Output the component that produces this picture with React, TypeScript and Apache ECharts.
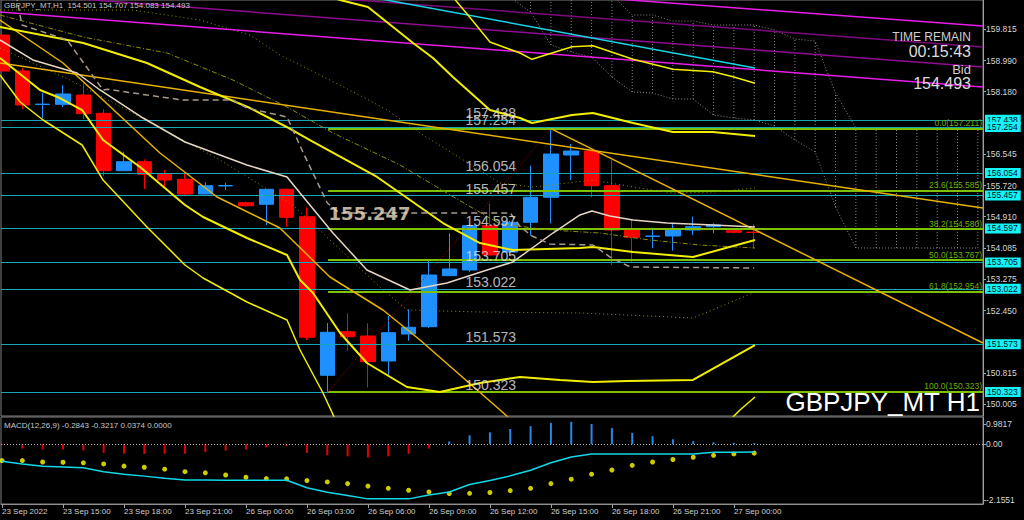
import React, { useEffect, useRef } from "react";
import * as echarts from "echarts";

// ---------------- data ----------------
const TIME_LABELS = ["23 Sep 2022", "23 Sep 15:00", "23 Sep 18:00", "23 Sep 21:00", "26 Sep 00:00", "26 Sep 03:00", "26 Sep 06:00", "26 Sep 09:00", "26 Sep 12:00", "26 Sep 15:00", "26 Sep 18:00", "26 Sep 21:00", "27 Sep 00:00"];
const TIME_LABEL_BARS = [0, 3, 6, 9, 12, 15, 18, 21, 24, 27, 30, 33, 36];

const OPEN = [159.658, 158.716, 157.840, 157.845, 158.089, 157.610, 156.109, 156.344, 156.014, 155.884, 155.499, 155.710, 155.271, 155.230, 155.622, 154.905, 150.757, 151.897, 151.785, 151.131, 151.837, 152.028, 153.363, 153.511, 154.670, 153.980, 154.759, 155.413, 156.519, 156.624, 155.716, 154.557, 154.390, 154.401, 154.557, 154.644, 154.539, 154.501];
const CLOSE = [158.716, 157.827, 157.850, 158.115, 157.600, 156.109, 156.344, 156.014, 155.865, 155.499, 155.716, 155.720, 155.193, 155.622, 154.890, 151.751, 151.882, 151.766, 151.113, 151.871, 152.012, 153.380, 153.538, 154.670, 153.903, 154.759, 155.413, 156.545, 156.624, 155.716, 154.557, 154.367, 154.400, 154.557, 154.644, 154.688, 154.497, 154.493];
const LOW = [158.350, 157.722, 157.479, 157.775, 157.461, 155.970, 156.100, 155.630, 155.664, 155.455, 155.490, 155.604, 155.159, 154.688, 154.644, 151.680, 150.323, 151.400, 150.443, 150.765, 151.662, 151.994, 153.360, 153.460, 153.890, 153.900, 154.408, 154.733, 155.865, 155.413, 153.642, 153.728, 154.079, 154.016, 154.427, 154.471, 154.471, 154.083];
const HIGH = [159.750, 158.803, 158.149, 158.350, 158.395, 157.715, 156.606, 156.407, 156.127, 156.030, 155.805, 155.795, 155.298, 155.630, 155.640, 155.151, 152.125, 152.378, 152.117, 152.308, 152.483, 153.791, 154.471, 154.688, 155.256, 154.800, 156.240, 157.211, 156.807, 156.630, 156.388, 154.819, 154.618, 154.714, 154.905, 154.733, 154.576, 154.707];

const PRICE_TICKS = [159.815, 158.990, 158.180, 156.545, 155.720, 154.910, 154.085, 153.275, 152.450, 150.815, 150.005];
const LEVEL_PRICES = [157.438, 157.254, 156.054, 155.457, 154.597, 153.705, 153.022, 151.573, 150.323];
const FIB_RATIOS = ["0.0", "23.6", "38.2", "50.0", "61.8", "100.0"];
const FIB_PRICES = [157.211, 155.585, 154.580, 153.767, 152.954, 150.323];
const FIB_START_BAR = 16.04;
const BID_PRICE = 154.493;
const MARKED_PRICE = 155.247;
const MARKED_PRICE_AT = [16.04, 155.002];
const LEVEL_TEXT_BAR = 22.77;

// [bar index, price] vertices of indicator lines
const BAND_OUTER_UP = [[21.3, 161.3], [22.3, 160.574], [23.0, 160.129], [24.0, 159.475], [25.48, 159.187], [26.07, 159.023], [28.04, 159.352], [29.07, 159.378], [31.04, 159.023], [33.0, 158.761], [34.97, 158.698], [35.96, 158.567], [37.04, 158.395]];
const BAND_INNER_UP = [[14.7, 160.9], [16.63, 160.574], [18.0, 160.391], [20.22, 159.449], [21.2, 159.057], [22.18, 158.560], [24.0, 157.696], [25.48, 157.487], [26.07, 157.356], [28.04, 157.565], [29.07, 157.617], [31.04, 157.356], [33.0, 157.121], [34.97, 157.121], [37.04, 157.016]];
const BAND_MID = [[-0.1, 159.868], [4.0, 159.449], [7.13, 158.926], [9.74, 158.298], [12.2, 157.748], [14.0, 157.252], [15.15, 156.911], [18.45, 155.944], [21.69, 154.740], [23.51, 154.217], [25.13, 154.034], [28.43, 154.087], [29.07, 154.113], [31.04, 153.982], [33.99, 153.851], [37.04, 154.296]];
const BAND_INNER_LOW = [[-0.1, 159.057], [1.87, 158.219], [2.85, 158.010], [3.94, 157.696], [4.97, 156.911], [6.79, 156.205], [9.0, 155.211], [9.89, 154.897], [12.05, 154.348], [14.02, 153.903], [14.66, 153.249], [15.3, 152.909], [16.63, 151.863], [17.95, 151.078], [19.92, 150.451], [21.54, 150.320], [23.51, 150.555], [25.48, 150.714], [27.45, 150.634], [29.07, 150.581], [30.74, 150.608], [33.99, 150.634], [37.04, 151.549]];
const BAND_OUTER_LOW = [[-0.1, 158.612], [0.89, 157.905], [2.02, 157.435], [3.94, 156.781], [4.97, 155.865], [7.13, 154.636], [9.0, 153.642], [9.89, 153.302], [12.05, 152.674], [14.02, 152.203], [14.66, 151.418], [15.79, 150.294], [16.63, 149.33], [20.0, 148.4], [24.0, 148.75], [29.0, 148.85], [33.0, 148.94], [35.0, 149.16], [36.3, 149.849], [37.04, 150.189]];
const MA_LINE = [[-0.1, 159.528], [1.52, 159.005], [3.69, 158.665], [4.82, 158.220], [6.94, 157.487], [9.0, 156.860], [12.05, 156.258], [14.02, 155.944], [14.66, 155.526], [16.28, 154.479], [17.95, 153.512], [20.07, 152.988], [21.89, 153.172], [23.86, 153.512], [25.13, 153.721], [27.1, 154.479], [28.43, 154.950], [29.02, 155.055], [29.9, 154.924], [31.04, 154.819], [32.7, 154.741], [34.97, 154.689], [37.04, 154.636]];
const KIJUN_LINE = [[0.7, 160.7], [0.98, 159.92], [3.2, 159.53], [4.97, 158.22], [5.2, 158.24], [7.13, 158.089], [8.9, 157.958], [11.36, 157.958], [12.05, 157.749], [14.02, 157.514], [14.8, 156.598], [16.0, 155.264], [16.6, 155.002], [25.0, 155.002], [25.5, 154.636], [26.07, 154.401], [26.95, 154.191], [29.07, 154.165], [29.9, 153.852], [30.9, 153.590], [37.0, 153.564]];
const OLIVE_UPPER = [[-0.1, 160.312], [6.44, 160.312], [9.74, 160.050], [12.2, 159.658], [13.67, 159.135], [14.66, 158.873], [16.13, 158.481], [17.76, 158.036], [18.94, 157.696], [20.56, 157.095], [24.5, 155.787], [26.12, 155.682], [29.07, 155.865], [31.04, 155.682], [33.0, 155.525], [34.97, 155.551], [37.04, 155.656]];
const OLIVE_MID = [[-0.1, 160.181], [4.0, 159.606], [8.12, 159.187], [11.36, 158.481], [14.02, 157.775], [16.28, 157.095], [19.58, 156.258], [22.04, 155.474], [24.5, 154.715], [26.95, 154.558], [29.41, 154.479], [31.87, 154.296], [34.33, 154.165], [37.04, 154.087]];
const OLIVE_LOW = [[-0.1, 159.318], [3.34, 158.481], [6.79, 157.513], [10.72, 156.389], [14.31, 155.211], [16.13, 154.296], [18.59, 153.066], [19.92, 152.465], [23.51, 152.412], [28.43, 152.387], [33.99, 152.256], [36.94, 152.910]];
const CYAN_TREND = [[14.66, 160.99], [37.04, 158.795]];
const MAGENTA_1 = [[-0.1, 161.785], [48.25, 159.894]];
const MAGENTA_2 = [[-0.1, 161.272], [48.25, 159.344]];
const MAGENTA_3 = [[-0.1, 160.757], [48.25, 158.821]];
const MAGENTA_4 = [[-0.1, 160.260], [48.25, 158.298]];
const GOLD_1 = [[-0.1, 158.926], [48.25, 155.133]];
const GOLD_2 = [[-0.1, 160.050], [3.0, 158.926], [4.97, 157.958], [7.77, 156.571], [10.58, 155.421], [13.67, 154.610], [16.13, 153.328], [18.74, 152.465], [20.56, 151.680], [24.5, 149.849], [25.48, 149.38]];
const GOLD_3 = [[27.0, 157.211], [48.25, 151.602]];
const ZIGZAG = [[16.04, 150.323], [27.0, 157.211]];

const CLOUD_BARS = [25, 26, 27, 28, 29, 30, 31, 32, 33, 34, 35, 36, 37, 38, 39, 40, 41, 42, 43, 44, 45, 46, 47, 48];
const SPAN_A = [160.65, 160.260, 159.397, 159.213, 159.083, 158.560, 158.167, 158.141, 157.984, 157.984, 157.566, 157.487, 157.435, 157.278, 156.912, 156.598, 155.159, 154.087, 154.087, 154.087, 154.087, 154.087, 154.087, 154.087];
const SPAN_B = [161.6, 161.4, 161.2, 161.0, 160.85, 160.705, 160.182, 160.182, 160.024, 160.024, 159.920, 159.920, 159.920, 159.789, 159.554, 159.501, 158.141, 157.226, 157.226, 157.226, 157.226, 157.226, 157.226, 157.226];

const MACD_HIST = [-0.02, -0.16, -0.19, -0.19, -0.22, -0.31, -0.34, -0.35, -0.35, -0.34, -0.28, -0.23, -0.19, -0.11, -0.07, -0.31, -0.40, -0.44, -0.48, -0.44, -0.35, -0.16, 0.10, 0.32, 0.43, 0.55, 0.65, 0.77, 0.81, 0.73, 0.58, 0.41, 0.29, 0.18, 0.11, 0.07, 0.05, 0.0374];
const MACD_MAIN = [-0.61, -0.71, -0.79, -0.82, -0.85, -0.99, -1.08, -1.15, -1.23, -1.29, -1.29, -1.30, -1.30, -1.30, -1.30, -1.57, -1.73, -1.85, -1.97, -1.97, -1.97, -1.83, -1.72, -1.45, -1.31, -1.14, -0.94, -0.67, -0.46, -0.35, -0.35, -0.35, -0.35, -0.35, -0.35, -0.29, -0.29, -0.2843];
const MACD_SIGNAL = [-0.59, -0.59, -0.64, -0.65, -0.67, -0.71, -0.79, -0.83, -0.90, -0.99, -1.03, -1.11, -1.19, -1.24, -1.25, -1.31, -1.36, -1.42, -1.51, -1.59, -1.66, -1.72, -1.78, -1.77, -1.74, -1.67, -1.59, -1.42, -1.26, -1.08, -0.93, -0.76, -0.64, -0.55, -0.47, -0.40, -0.35, -0.3217];
const MACD_TICK_LABELS = ["0.9817", "0.00", "-2.1551"];
const MACD_MAX = 0.9817;
const MACD_MIN = -2.1551;

// ---------------- layout ----------------
const FONT = '"Liberation Sans", Arial, sans-serif';
const X_MIN = -0.0492;
const X_MAX = 48.254;
const Y_MIN = 149.692;
const Y_MAX = 160.574;
const MAIN_H = 416;
const MACD_TOP = 417;
const MACD_H = 87;

function buildOption() {
  const bars = OPEN.map((o, i) => [i, o, CLOSE[i], LOW[i], HIGH[i]]);
  const line = (data: number[][], color: string, width: number, type: any = "solid", z = 3) => ({
    type: "line",
    xAxisIndex: 0,
    yAxisIndex: 0,
    data,
    symbol: "none",
    showSymbol: false,
    silent: true,
    clip: true,
    z,
    lineStyle: { color, width, type },
  });

  const perPx = (MACD_MAX - MACD_MIN) / MACD_H;
  const macdTickPos = [MACD_MAX - 7 * perPx, 0, MACD_MIN + 4 * perPx];

  const tealLines = LEVEL_PRICES.map((p) => ({
    yAxis: p,
    lineStyle: { color: "#15a7b3", width: 1, type: "solid" },
    label: {
      show: true,
      position: "end",
      distance: 2,
      formatter: p.toFixed(3),
      backgroundColor: "#12f4f8",
      color: "#001018",
      fontSize: 8.5,
      fontFamily: FONT,
      padding: [1, 3, 0, 2],
    },
  }));
  const bidLine = {
    yAxis: BID_PRICE,
    lineStyle: { opacity: 0 },
    label: {
      show: true,
      position: "end",
      distance: 2,
      formatter: BID_PRICE.toFixed(3),
      backgroundColor: "#ffffff",
      color: "#000",
      fontSize: 8.5,
      fontFamily: FONT,
      padding: [1, 3, 0, 2],
    },
  };
  const fibLines = FIB_PRICES.map((p, i) => [
    {
      coord: [FIB_START_BAR, p],
      lineStyle: { color: "#7cc200", width: 2, type: "solid" },
      label: {
        show: true,
        position: "insideEndTop",
        distance: 1,
        formatter: `${FIB_RATIOS[i]}(${p.toFixed(3)})`,
        color: "#6fae00",
        fontSize: 8.5,
        fontFamily: FONT,
      },
    },
    { coord: [X_MAX, p] },
  ]);

  return {
    animation: false,
    backgroundColor: "#000000",
    grid: [
      { left: 1, top: 0, width: 982, height: MAIN_H, show: true, borderColor: "#808080", borderWidth: 1, backgroundColor: "#000", outerBoundsMode: "none" },
      { left: 1, top: MACD_TOP, width: 982, height: MACD_H, show: true, borderColor: "#808080", borderWidth: 1, backgroundColor: "#000", outerBoundsMode: "none" },
    ],
    xAxis: [
      { type: "value", gridIndex: 0, min: X_MIN, max: X_MAX, show: false, splitLine: { show: false } },
      {
        type: "value",
        gridIndex: 1,
        min: X_MIN,
        max: X_MAX,
        position: "bottom",
        axisLine: { show: true, onZero: false, lineStyle: { color: "#909090" } },
        axisTick: { show: true, customValues: TIME_LABEL_BARS, length: 4, lineStyle: { color: "#a0a0a0" } },
        axisLabel: {
          show: true,
          customValues: TIME_LABEL_BARS,
          formatter: (v: number) => {
            const i = TIME_LABEL_BARS.indexOf(Math.round(v));
            return i >= 0 ? TIME_LABELS[i] : "";
          },
          align: "left",
          margin: 3,
          color: "#d0d0d0",
          fontSize: 8,
          fontFamily: FONT,
        },
        splitLine: { show: false },
      },
    ],
    yAxis: [
      {
        type: "value",
        gridIndex: 0,
        position: "right",
        min: Y_MIN,
        max: Y_MAX,
        axisLine: { show: true, onZero: false, lineStyle: { color: "#a0a0a0" } },
        axisTick: { show: true, customValues: PRICE_TICKS, length: 3, lineStyle: { color: "#a0a0a0" } },
        axisLabel: {
          customValues: PRICE_TICKS,
          formatter: (v: number) => v.toFixed(3),
          color: "#d6d6d6",
          fontSize: 8.5,
          margin: 3,
          fontFamily: FONT,
        },
        splitLine: { show: false },
      },
      {
        type: "value",
        gridIndex: 1,
        position: "right",
        min: MACD_MIN,
        max: MACD_MAX,
        axisLine: { show: true, onZero: false, lineStyle: { color: "#a0a0a0" } },
        axisTick: { show: true, customValues: macdTickPos, length: 3, lineStyle: { color: "#a0a0a0" } },
        axisLabel: {
          customValues: macdTickPos,
          formatter: (v: number) => {
            let best = 0;
            macdTickPos.forEach((t, i) => {
              if (Math.abs(t - v) < Math.abs(macdTickPos[best] - v)) best = i;
            });
            return MACD_TICK_LABELS[best];
          },
          color: "#d6d6d6",
          fontSize: 8.5,
          margin: 3,
          fontFamily: FONT,
        },
        splitLine: { show: false },
      },
    ],
    series: [
      // Ichimoku cloud hatch
      {
        type: "custom",
        xAxisIndex: 0,
        yAxisIndex: 0,
        silent: true,
        clip: true,
        z: 1,
        data: CLOUD_BARS.map((k, i) => [k, SPAN_A[i], SPAN_B[i]]),
        renderItem: (_params: any, api: any) => {
          const p1 = api.coord([api.value(0), api.value(1)]);
          const p2 = api.coord([api.value(0), api.value(2)]);
          return {
            type: "line",
            shape: { x1: p1[0], y1: p1[1], x2: p2[0], y2: Math.max(p2[1], 0) },
            style: { stroke: "#8a8a8a", lineWidth: 1, lineDash: [1, 2] },
          };
        },
      },
      line(CLOUD_BARS.map((k, i) => [k, SPAN_A[i]]), "#8a8a8a", 1, [1, 2], 1),
      line(CLOUD_BARS.map((k, i) => [k, SPAN_B[i]]), "#8a8a8a", 1, [1, 2], 1),
      // candles
      {
        type: "candlestick",
        xAxisIndex: 0,
        yAxisIndex: 0,
        data: bars,
        barWidth: 15,
        clip: true,
        silent: true,
        z: 2,
        itemStyle: {
          color: "#1e90ff",
          color0: "#ff0000",
          borderColor: "#1e90ff",
          borderColor0: "#ff0000",
          borderWidth: 1,
        },
        markLine: {
          silent: true,
          symbol: ["none", "none"],
          animation: false,
          z: 3,
          data: [bidLine, ...tealLines, ...fibLines],
        },
      },
      // olive lines
      line(OLIVE_UPPER, "#8f8f00", 1, [1, 3], 3),
      line(OLIVE_MID, "#8f8f00", 1, [5, 2, 1, 2], 3),
      line(OLIVE_LOW, "#8f8f00", 1, [1, 3], 3),
      // magenta channel and cyan trend
      line(MAGENTA_1, "#e81ce8", 1.5, "solid", 3),
      line(MAGENTA_2, "#7c0a7c", 1.5, "solid", 3),
      line(MAGENTA_3, "#900c90", 1.5, "solid", 3),
      line(MAGENTA_4, "#e81ce8", 1.5, "solid", 3),
      line(CYAN_TREND, "#18d4e4", 1.5, "solid", 3),
      // gold trend lines
      line(GOLD_1, "#e8b200", 1.5, "solid", 4),
      line(GOLD_2, "#e8b200", 1.5, "solid", 4),
      line(GOLD_3, "#e8b200", 1.5, "solid", 4),
      line(ZIGZAG, "#b00000", 1, [1, 2], 4),
      // bands
      line(BAND_OUTER_UP, "#f2ee00", 1.5, "solid", 4),
      line(BAND_INNER_UP, "#f2ee00", 2, "solid", 4),
      line(BAND_MID, "#f2ee00", 2, "solid", 4),
      line(BAND_INNER_LOW, "#f2ee00", 2, "solid", 4),
      line(BAND_OUTER_LOW, "#f2ee00", 1.5, "solid", 4),
      // MA and kijun
      line(MA_LINE, "#e6d6c4", 1.5, "solid", 4),
      line(KIJUN_LINE, "#a89a8c", 1.5, [6, 4], 4),
      // level texts
      {
        type: "scatter",
        xAxisIndex: 0,
        yAxisIndex: 0,
        silent: true,
        z: 6,
        symbol: "circle",
        symbolSize: 1,
        itemStyle: { color: "rgba(0,0,0,0)" },
        data: LEVEL_PRICES.map((p) => [LEVEL_TEXT_BAR, p]),
        label: {
          show: true,
          position: "right",
          distance: 0,
          verticalAlign: "bottom",
          formatter: (p: any) => p.value[1].toFixed(3),
          color: "#e4e4e4",
          fontSize: 14,
          fontFamily: FONT,
        },
      },
      {
        type: "scatter",
        xAxisIndex: 0,
        yAxisIndex: 0,
        silent: true,
        z: 6,
        symbol: "circle",
        symbolSize: 1,
        itemStyle: { color: "rgba(0,0,0,0)" },
        data: [MARKED_PRICE_AT],
        label: {
          show: true,
          position: "right",
          distance: 0,
          verticalAlign: "middle",
          formatter: MARKED_PRICE.toFixed(3),
          color: "#f3e2c6",
          fontSize: 18,
          fontWeight: "bold",
          fontFamily: '"DejaVu Sans", sans-serif',
        },
      },
      // MACD
      {
        type: "bar",
        xAxisIndex: 1,
        yAxisIndex: 1,
        silent: true,
        barWidth: 2,
        data: MACD_HIST.map((v, i) => [i, v]),
        itemStyle: {
          color: (p: any) => (p.value[1] >= 0 ? "#2a86e8" : "#e00000"),
        },
      },
      {
        type: "line",
        xAxisIndex: 1,
        yAxisIndex: 1,
        silent: true,
        symbol: "none",
        data: MACD_MAIN.map((v, i) => [i, v]),
        lineStyle: { color: "#10d8e6", width: 1.5 },
        markLine: {
          silent: true,
          symbol: ["none", "none"],
          label: { show: false },
          lineStyle: { color: "#b8b8b8", width: 1, type: [1, 2] },
          data: [{ yAxis: 0 }],
        },
      },
      {
        type: "scatter",
        xAxisIndex: 1,
        yAxisIndex: 1,
        silent: true,
        symbolSize: 5,
        itemStyle: { color: "#ffff00" },
        data: MACD_SIGNAL.map((v, i) => [i, v]),
      },
    ],
    graphic: [
      { type: "text", x: 4, y: 5, z: 100, style: { text: "GBPJPY_MT,H1  154.501 154.707 154.083 154.493", fill: "#c8c8c8", font: `8px ${FONT}`, verticalAlign: "middle" } },
      { type: "text", x: 4, y: 425, z: 100, style: { text: "MACD(12,26,9) -0.2843 -0.3217 0.0374 0.0000", fill: "#c8c8c8", font: `8px ${FONT}`, verticalAlign: "middle" } },
      { type: "text", x: 971, y: 37, z: 100, style: { text: "TIME REMAIN", fill: "#cfcfcf", font: `12px ${FONT}`, align: "right", verticalAlign: "middle" } },
      { type: "text", x: 971, y: 51, z: 100, style: { text: "00:15:43", fill: "#dcdcdc", font: `16px ${FONT}`, align: "right", verticalAlign: "middle" } },
      { type: "text", x: 971, y: 69, z: 100, style: { text: "Bid", fill: "#cfcfcf", font: `13px ${FONT}`, align: "right", verticalAlign: "middle" } },
      { type: "text", x: 971, y: 83, z: 100, style: { text: "154.493", fill: "#dcdcdc", font: `16px ${FONT}`, align: "right", verticalAlign: "middle" } },
      { type: "text", x: 980, y: 402, z: 100, style: { text: "GBPJPY_MT H1", fill: "#ffffff", font: `26px ${FONT}`, align: "right", verticalAlign: "middle" } },
    ],
  };
}

export default function App() {
  const ref = useRef<HTMLDivElement>(null);
  useEffect(() => {
    document.body.style.margin = "0";
    document.body.style.background = "#000";
    const chart = echarts.init(ref.current!, null, { renderer: "svg" });
    chart.setOption(buildOption() as any);
    return () => chart.dispose();
  }, []);
  return <div ref={ref} style={{ width: 1024, height: 520, background: "#000" }} />;
}
